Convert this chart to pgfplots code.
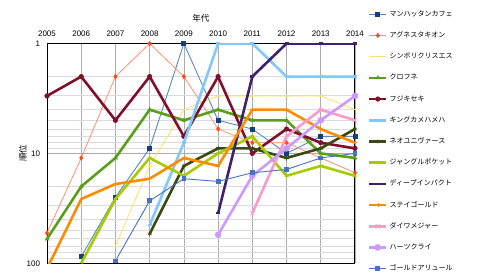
\documentclass[border=0pt]{standalone}
\usepackage{fontspec}
\setmainfont{Liberation Sans}
\newfontfamily\jp{Noto Sans CJK JP}
\usepackage{pgfplots}
\pgfplotsset{compat=1.18}
\definecolor{manL}{HTML}{5B87BD}
\definecolor{manM}{HTML}{10417E}
\definecolor{agnL}{HTML}{FF9070}
\definecolor{agnM}{HTML}{FF4A10}
\definecolor{sym}{HTML}{FFE066}
\definecolor{kuro}{HTML}{5A9E1A}
\definecolor{fuji}{HTML}{7F0F2A}
\definecolor{king}{HTML}{80C8FF}
\definecolor{neo}{HTML}{3A4A10}
\definecolor{jung}{HTML}{A4CC00}
\definecolor{deep}{HTML}{3F1F6F}
\definecolor{stay}{HTML}{FF8C00}
\definecolor{daiwa}{HTML}{FF99CC}
\definecolor{hearts}{HTML}{CC99FF}
\definecolor{gold}{HTML}{4472C4}
\begin{document}
\begin{tikzpicture}
\useasboundingbox (0,0) rectangle (480pt,-280pt);
\begin{axis}[
  at={(47pt,-43.5pt)}, anchor=north west,
  scale only axis, width=308pt, height=219.8pt,
  xmin=2005, xmax=2014,
  ymode=log, ymin=1, ymax=100, y dir=reverse,
  xtick={2005,2006,...,2014},
  xticklabel pos=top,
  x tick label style={/pgf/number format/1000 sep={}, yshift=3.5pt},
  y tick label style={xshift=-3.5pt},
  ytick={1,10,100}, yticklabels={1,10,100},
  minor ytick={2,3,4,5,6,7,8,9,20,30,40,50,60,70,80,90},
  xmajorgrids, ymajorgrids, yminorgrids,
  major grid style={gray!65, line width=0.6pt},
  minor grid style={gray!28, line width=1pt},
  major tick length=0pt, minor tick length=0pt,
  tick label style={font=\fontsize{8}{9}\selectfont},
  /pgf/number format/assume math mode=true,
  axis line style={black, line width=1pt},
  xlabel={\jp 年代}, ylabel={\jp 順位},
  xlabel style={at={(axis description cs:0.5,1.115)}, anchor=center, font=\fontsize{8.5}{9}\selectfont},
  ylabel style={at={(axis description cs:-0.078,0.5)}, anchor=center, font=\fontsize{8.5}{9}\selectfont},
  clip mode=individual,
  legend style={at={(axis description cs:1.0422,1.149)}, anchor=north west, draw=none, fill=none,
    inner sep=0pt, outer sep=0pt, row sep=14.2pt, column sep=2pt,
    font=\jp\fontsize{7}{7}\selectfont,
    nodes={inner sep=0pt, text height=5.5pt, text depth=1.5pt}},
  legend cell align=left,
]
\addplot[manL, line width=0.9pt, mark=square*, mark size=2pt, mark options={draw=manM, fill=manM}] coordinates {
(2006,87) (2007,25) (2008,9) (2009,1) (2010,5) (2011,6) (2012,10) (2013,7) (2014,7)};
\addlegendentry{マンハッタンカフェ}
\addplot[agnL, line width=0.8pt, mark=diamond*, mark size=2pt, mark options={draw=agnM, fill=agnM}] coordinates {
(2005,53) (2006,11) (2007,2) (2008,1) (2009,2) (2010,6) (2011,8) (2012,8) (2013,11) (2014,15)};
\addlegendentry{アグネスタキオン}
\addplot[sym, line width=0.8pt, mark=-, mark size=2pt] coordinates {
(2007,70) (2008,13) (2009,4) (2010,3) (2011,3) (2012,3) (2013,3) (2014,4)};
\addlegendentry{シンボリクリスエス}
\addplot[kuro, line width=2.6pt, mark=triangle*, mark size=2.2pt, mark options={line width=0.5pt}] coordinates {
(2005,60) (2006,20) (2007,11) (2008,4) (2009,5) (2010,4) (2011,5) (2012,5) (2013,10) (2014,11)};
\addlegendentry{クロフネ}
\addplot[fuji, line width=2.6pt, mark=*, mark size=2.3pt, mark options={line width=0.5pt}] coordinates {
(2005,3) (2006,2) (2007,5) (2008,2) (2009,7) (2010,2) (2011,10) (2012,6) (2013,8) (2014,9)};
\addlegendentry{フジキセキ}
\addplot[king, line width=2.6pt, mark=-, mark size=2pt] coordinates {
(2008,45) (2009,8) (2010,1) (2011,1) (2012,2) (2013,2) (2014,2)};
\addlegendentry{キングカメハメハ}
\addplot[neo, line width=2.6pt, mark=asterisk, mark size=2.3pt, mark options={line width=0.6pt}] coordinates {
(2008,54) (2009,13) (2010,9) (2011,9) (2012,11) (2013,9) (2014,6)};
\addlegendentry{ネオユニヴァース}
\addplot[jung, line width=2.6pt, mark=asterisk, mark size=2.3pt, mark phase=2, mark options={line width=0.6pt}] coordinates {
(2006,100) (2007,26) (2008,11) (2009,16) (2010,10) (2011,7) (2012,16) (2013,13) (2014,16)};
\addlegendentry{ジャングルポケット}
\addplot[deep, line width=2.6pt, mark=-, mark size=2pt] coordinates {
(2010,35) (2011,2) (2012,1) (2013,1) (2014,1)};
\addlegendentry{ディープインパクト}
\addplot[stay, line width=2.6pt, mark=+, mark size=2pt, mark phase=2, mark options={line width=0.6pt}] coordinates {
(2005,112) (2006,26) (2007,19) (2008,17) (2009,11) (2010,13) (2011,4) (2012,4) (2013,6) (2014,8)};
\addlegendentry{ステイゴールド}
\addplot[daiwa, line width=2.6pt, mark=x, mark size=3pt, mark options={line width=0.6pt}] coordinates {
(2011,35) (2012,7) (2013,4) (2014,5)};
\addlegendentry{ダイワメジャー}
\addplot[hearts, line width=2.6pt, mark=*, mark size=3pt, mark options={line width=0.5pt}] coordinates {
(2010,55) (2011,16) (2012,9) (2013,5) (2014,3)};
\addlegendentry{ハーツクライ}
\addplot[gold, line width=0.9pt, mark=square*, mark size=1.9pt, mark options={draw=gold, fill=gold}] coordinates {
(2007,95) (2008,27) (2009,17) (2010,18) (2011,15) (2012,14) (2013,11) (2014,10)};
\addlegendentry{ゴールドアリュール}
\end{axis}
\end{tikzpicture}
\end{document}
